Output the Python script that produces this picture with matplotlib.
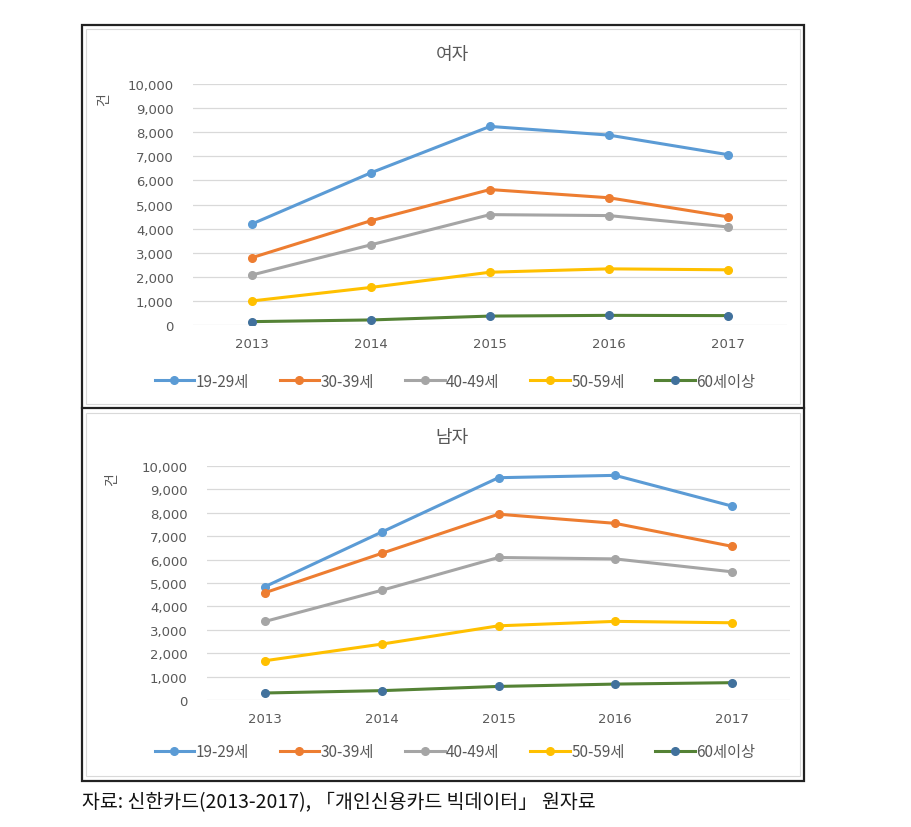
import matplotlib
matplotlib.use("Agg")
import matplotlib.pyplot as plt
from matplotlib.patches import Rectangle
from matplotlib.lines import Line2D
from matplotlib.ticker import FuncFormatter

plt.rcParams['font.family'] = ['Noto Sans CJK KR', 'DejaVu Sans']

years = ['2013', '2014', '2015', '2016', '2017']
series_names = ['19-29세', '30-39세', '40-49세', '50-59세', '60세이상']

female = {
    '19-29세': [4200, 6320, 8240, 7880, 7070],
    '30-39세': [2800, 4330, 5620, 5280, 4490],
    '40-49세': [2080, 3330, 4580, 4540, 4070],
    '50-59세': [1000, 1560, 2190, 2330, 2290],
    '60세이상': [140, 210, 370, 400, 390],
}
male = {
    '19-29세': [4850, 7180, 9500, 9600, 8290],
    '30-39세': [4590, 6270, 7940, 7550, 6570],
    '40-49세': [3360, 4690, 6090, 6030, 5480],
    '50-59세': [1680, 2390, 3170, 3360, 3300],
    '60세이상': [300, 400, 580, 680, 740],
}
panel_titles = ['여자', '남자']
y_ticks = [0, 1000, 2000, 3000, 4000, 5000, 6000, 7000, 8000, 9000, 10000]
y_unit = '건'
source_note = '자료: 신한카드(2013-2017), 「개인신용카드 빅데이터」 원자료'

line_colors = {'19-29세': '#5B9BD5', '30-39세': '#ED7D31', '40-49세': '#A5A5A5',
               '50-59세': '#FFC000', '60세이상': '#548235'}
marker_colors = {'19-29세': '#5B9BD5', '30-39세': '#ED7D31', '40-49세': '#A5A5A5',
                 '50-59세': '#FFC000', '60세이상': '#41719C'}

W, H = 911, 828
fig = plt.figure(figsize=(W / 100, H / 100), dpi=100)

def fx(px):
    return px / W

def fy(py):
    return 1 - py / H

# outer frame and divider
fig.patches.append(Rectangle((fx(82), fy(782)), fx(804) - fx(82), fy(26) - fy(782),
                             transform=fig.transFigure, fill=False, ec='#222222', lw=1.6))
fig.add_artist(Line2D([fx(82), fx(804)], [fy(409), fy(409)], transform=fig.transFigure,
                      color='#222222', lw=1.6))
# inner chart borders
fig.patches.append(Rectangle((fx(86), fy(405)), fx(800) - fx(86), fy(30) - fy(405),
                             transform=fig.transFigure, fill=False, ec='#D9D9D9', lw=0.8))
fig.patches.append(Rectangle((fx(86), fy(777)), fx(800) - fx(86), fy(414) - fy(777),
                             transform=fig.transFigure, fill=False, ec='#D9D9D9', lw=0.8))

panels = [
    dict(data=female, left=193, right=787, top=85, bottom=326, title_y=55,
         unit_x=104, unit_y=100, legend_y=382),
    dict(data=male, left=207, right=790, top=467, bottom=701, title_y=438,
         unit_x=112, unit_y=480, legend_y=753),
]

x = list(range(len(years)))
for p, title in zip(panels, panel_titles):
    ax = fig.add_axes([fx(p['left']), fy(p['bottom']), fx(p['right']) - fx(p['left']),
                       fy(p['top']) - fy(p['bottom'])])
    handles = []
    for name in series_names:
        h, = ax.plot(x, p['data'][name], color=line_colors[name], lw=2.2, marker='o',
                     markersize=5.5, markerfacecolor=marker_colors[name],
                     markeredgecolor=marker_colors[name], label=name, zorder=3)
        handles.append(h)
    ax.set_xlim(-0.5, len(years) - 0.5)
    ax.set_ylim(0, 10000)
    ax.set_xticks(x)
    ax.set_xticklabels(years)
    ax.set_yticks(y_ticks)
    ax.yaxis.set_major_formatter(FuncFormatter(lambda v, pos: f'{int(v):,}'))
    ax.grid(axis='y', color='#D9D9D9', lw=0.9)
    ax.set_axisbelow(True)
    for s in ax.spines.values():
        s.set_visible(False)
    ax.tick_params(length=0, colors='#595959', labelsize=9.5)
    ax.tick_params(axis='y', pad=14)
    ax.tick_params(axis='x', pad=9)
    for lbl in ax.get_xticklabels() + ax.get_yticklabels():
        lbl.set_fontfamily(['DejaVu Sans'])
    fig.text(fx(452), fy(p['title_y']), title, ha='center', va='center',
             fontsize=13, color='#595959')
    fig.text(fx(p['unit_x']), fy(p['unit_y']), y_unit, ha='center', va='center',
             fontsize=10, color='#595959', rotation=90)
    fig.legend(handles=handles, labels=series_names, loc='center',
               bbox_to_anchor=(fx(455), fy(p['legend_y'])), ncol=5, frameon=False,
               fontsize=11, labelcolor='#595959', handlelength=2.6, handletextpad=0.1,
               columnspacing=2.0, borderaxespad=0)

fig.text(fx(82), fy(803), source_note, ha='left', va='center', fontsize=14, color='#111111')

fig.savefig('out.png', dpi=100)
